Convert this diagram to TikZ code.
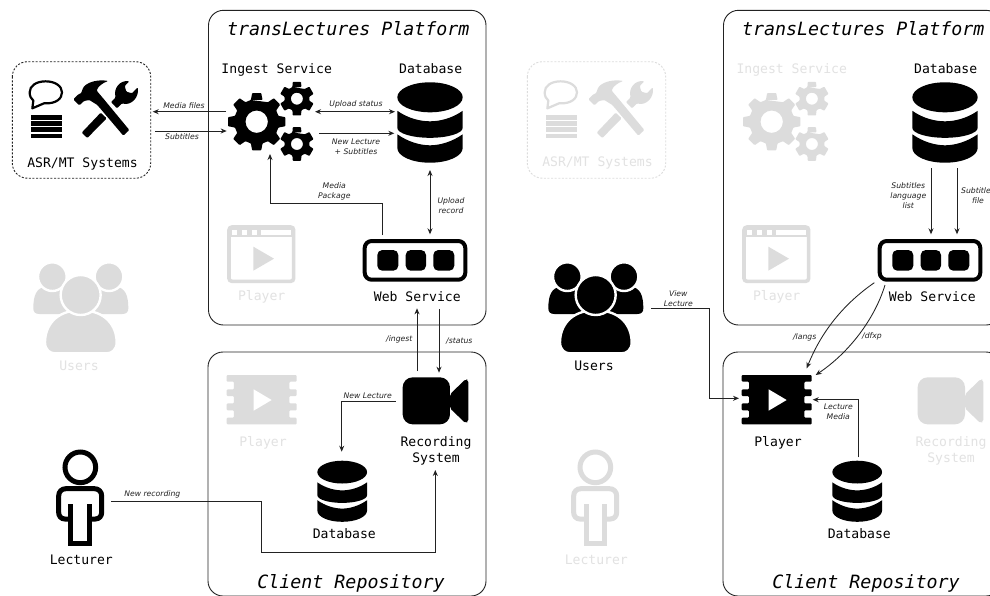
\documentclass[tikz,border=0pt]{standalone}
\usepackage{fontspec}
\setmonofont{DejaVu Sans Mono}
\setsansfont{DejaVu Sans}
\usetikzlibrary{arrows.meta}
\definecolor{ghost}{HTML}{DCDCDC}
\definecolor{ghosttext}{HTML}{E2E2E2}
\definecolor{ink}{HTML}{000000}
\definecolor{wire}{HTML}{222222}
\tikzset{
  zc/.style={x=0.33333pt,y=-0.33333pt},
  boxline/.style={draw=wire,line width=0.9pt,rounded corners=15pt},
  conn/.style={draw=wire,line width=0.85pt,-{Stealth[length=6pt,width=5pt]}},
  conn2/.style={draw=wire,line width=0.85pt,{Stealth[length=6pt,width=5pt]}-{Stealth[length=6pt,width=5pt]}},
  lab/.style={font=\ttfamily\fontsize{13.1}{16.3}\selectfont,inner sep=0pt,align=center,text=ink},
  ghostlab/.style={lab,text=ghosttext},
  titlelab/.style={font=\ttfamily\itshape\fontsize{18.3}{22}\selectfont,inner sep=0pt,text=ink},
  wlab/.style={font=\sffamily\itshape\fontsize{7.7}{10}\selectfont,inner sep=0pt,align=center,text=wire},
}
% #1 dx, #2 colour
\newcommand\toolsicon[2]{\begin{scope}[xshift=#1pt,zc]
  \filldraw[draw=#2,fill=white,line width=2.2pt,line join=round] (100,302) -- (97,325) -- (132,310) .. controls (170,312) and (186,295) .. (186,277) .. controls (186,258) and (165,244) .. (137,244) .. controls (108,244) and (89,258) .. (89,277) .. controls (89,288) and (93,296) .. (100,302) -- cycle;
  \foreach \yy in {345,364,382,401}{\fill[#2] (93,\yy) rectangle (185,\yy+14);}
  \fill[#2,rounded corners=1pt] (220,298) -- (238,316) -- (252,303) -- (268,300) -- (292,315) -- (370,407) -- (388,390) -- (312,298) -- (290,272) .. controls (295,258) and (310,248) .. (325,243) .. controls (295,238) and (265,245) .. (250,262) -- (243,280) -- (235,283) -- cycle;
  \fill[#2,rounded corners=1pt] (245,398) -- (262,414) -- (320,355) -- (302,338) -- cycle;
  \fill[#2,rounded corners=1pt] (333,306) -- (351,325) -- (366,310) .. controls (395,318) and (418,290) .. (413,262) -- (396,280) -- (379,275) -- (374,258) -- (388,244) .. controls (360,240) and (340,265) .. (347,292) -- cycle;
\end{scope}}
% #1 cx #2 cy #3 n #4 outer #5 root #6 hole #7 tip half #8 root half #9 colour
\newcommand\onegear[9]{\fill[#9,even odd rule,shift={(#1,#2)},rounded corners=0.7pt]
  (-90-#8:#5) \foreach \i [evaluate=\i as \a using {-90+\i*360/#3}] in {1,...,#3}{
     -- (\a-#8:#5) -- (\a-#7:#4) -- (\a+#7:#4) -- (\a+#8:#5)
  } -- cycle (0,0) circle (#6);}
\newcommand\gearsicon[2]{\begin{scope}[xshift=#1pt]
  \onegear{256.7}{121.7}{8}{29}{22.5}{11.2}{9}{15}{#2}
  \onegear{296.9}{98.7}{6}{17.3}{12.5}{6}{14}{21}{#2}
  \onegear{296.9}{144}{6}{17.3}{12.5}{6}{14}{21}{#2}
\end{scope}}
% #1 dx #2 dy (top) #3 scale #4 colour
\newcommand\dbicon[4]{\begin{scope}[shift={(#1,#2)},scale=#3]
  \fill[#4] (0,15) ellipse (32.7 and 15);
  \fill[#4] (-32.7,28.5) .. controls (-22,36) and (-10,39) .. (0,39) .. controls (10,39) and (22,36) .. (32.7,28.5) -- (32.7,45.5) .. controls (32.7,51) and (18,55.5) .. (0,55.5) .. controls (-18,55.5) and (-32.7,51) .. (-32.7,45.5) -- cycle;
  \fill[#4] (-32.7,52) .. controls (-22,59.5) and (-10,63) .. (0,63) .. controls (10,63) and (22,59.5) .. (32.7,52) -- (32.7,65.5) .. controls (32.7,74) and (18,80.4) .. (0,80.4) .. controls (-18,80.4) and (-32.7,74) .. (-32.7,65.5) -- cycle;
\end{scope}}
\newcommand\serviceicon[2]{\begin{scope}[xshift=#1pt]
  \draw[#2,line width=4pt,rounded corners=7pt] (364.7,241) rectangle (465.3,279.7);
  \fill[#2,rounded corners=5pt] (377.3,250) rectangle (398.3,270.7);
  \fill[#2,rounded corners=5pt] (405.7,250) rectangle (426,270.7);
  \fill[#2,rounded corners=5pt] (433.3,250) rectangle (454.3,270.7);
\end{scope}}
\newcommand\browsericon[2]{\begin{scope}[xshift=#1pt,zc]
  \draw[#2,line width=3.6pt,rounded corners=3pt] (687,681) rectangle (881,844);
  \fill[#2] (687,681) rectangle (881,710);
  \foreach \xa/\xb in {695/712,725/742,757/772,783/873}{\fill[white] (\xa,690) rectangle (\xb,705);}
  \fill[#2] (760,740) -- (822,776) -- (760,812) -- cycle;
\end{scope}}
\newcommand\usersicon[2]{\begin{scope}[shift={(#1,295)},zc]
  \fill[#2] (100,40) .. controls (100,0) and (110,-20) .. (135,-25) -- (200,-25) -- (200,57) -- (118,57) .. controls (105,57) and (100,50) .. (100,40) -- cycle;
  \fill[#2] (385,40) .. controls (385,0) and (375,-20) .. (350,-25) -- (285,-25) -- (285,57) -- (367,57) .. controls (380,57) and (385,50) .. (385,40) -- cycle;
  \filldraw[fill=#2,draw=white,line width=2.4pt] (157,-55) circle (43 and 43);
  \filldraw[fill=#2,draw=white,line width=2.4pt] (327,-55) circle (43 and 43);
  \filldraw[fill=#2,draw=white,line width=2.4pt] (135,142) .. controls (135,95) and (165,46) .. (242,46) .. controls (319,46) and (350,95) .. (350,142) .. controls (350,165) and (335,175) .. (320,175) -- (165,175) .. controls (150,175) and (135,165) .. (135,142) -- cycle;
  \filldraw[fill=#2,draw=white,line width=2.4pt] (242,0) circle (60 and 60);
\end{scope}}
\newcommand\lecturericon[2]{\begin{scope}[shift={(#1,295)},zc]
  \draw[#2,line width=5pt] (241,517) circle (46 and 46);
  \draw[#2,line width=5pt] (213,672) -- (195,672) .. controls (183,672) and (176,663) .. (176,652) -- (176,603) .. controls (176,590) and (185,581) .. (198,581) -- (283,581) .. controls (296,581) and (305,590) .. (305,603) -- (305,652) .. controls (305,663) and (298,672) .. (286,672) -- (268,672);
  \draw[#2,line width=5pt] (213,628) -- (213,745) -- (268,745) -- (268,628);
\end{scope}}
\newcommand\filmicon[3]{\begin{scope}[shift={(#1,295)},zc]
  \fill[#3,rounded corners=1pt] (#2,240) -- (#2+210,240) -- (#2+210,260) -- (#2+188,260) -- (#2+188,283) -- (#2+210,283) -- (#2+210,303) -- (#2+188,303) -- (#2+188,325) -- (#2+210,325) -- (#2+210,346) -- (#2+188,346) -- (#2+188,368) -- (#2+210,368) -- (#2+210,388) -- (#2,388) -- (#2,368) -- (#2+22,368) -- (#2+22,346) -- (#2,346) -- (#2,325) -- (#2+22,325) -- (#2+22,303) -- (#2,303) -- (#2,283) -- (#2+22,283) -- (#2+22,260) -- (#2,260) -- cycle;
  \fill[white] (#2+81,283) -- (#2+135,315) -- (#2+81,347) -- cycle;
\end{scope}}
\newcommand\cameraicon[2]{\begin{scope}[shift={(#1,295)},zc]
  \fill[#2,rounded corners=10pt] (1208,247) rectangle (1350,388);
  \fill[#2,rounded corners=2pt] (1350,298) -- (1397,252) -- (1405,255) -- (1405,380) -- (1397,385) -- (1350,340) -- cycle;
\end{scope}}
\begin{document}
\begin{tikzpicture}[x=1pt,y=-1pt]
\clip (0,0) rectangle (990,595);
\fill[white] (0,0) rectangle (990,595);

% ---------- left half ----------
\draw[boxline] (208.5,10.3) rectangle (486,325);
\draw[boxline] (208,352) rectangle (486,596);
\draw[draw=wire,line width=0.9pt,dashed,dash pattern=on 2pt off 1.6pt,rounded corners=15pt] (12.3,61.7) rectangle (150.7,178.2);
\toolsicon{0}{ink}
\gearsicon{0}{ink}
\dbicon{430}{82.3}{1}{ink}
\dbicon{342.2}{460.7}{0.76}{ink}
\serviceicon{0}{ink}
\browsericon{0}{ghost}
\usersicon{0}{ghost}
\lecturericon{0}{ink}
\filmicon{0}{680}{ghost}
\cameraicon{0}{ink}

\node[titlelab] (titleA) at (348.3,28.5) {transLectures Platform};
\node[titlelab] (clientA) at (351,583.3) {Client Repository};
\node[lab] (asrA) at (82.5,163.5) {ASR/MT Systems};
\node[lab] (ingestA) at (276.7,70) {Ingest Service};
\node[lab] (dbA) at (430.7,68.5) {Database};
\node[lab] (wsA) at (417.3,296.8) {Web Service};
\node[ghostlab] (playA) at (261.7,297.3) {Player};
\node[ghostlab] (usersA) at (79,365.8) {Users};
\node[ghostlab] (playcA) at (263,443) {Player};
\node[lab] (recA) at (436,451) {Recording\\System};
\node[lab] (cdbA) at (344.3,533.5) {Database};
\node[lab] (lecA) at (81.3,560) {Lecturer};

\coordinate (a1) at (226,111.7);   \coordinate (a2) at (152.7,111.7);
\coordinate (b1) at (155,131);     \coordinate (b2) at (226.7,131);
\coordinate (c1) at (315,111.7);   \coordinate (c2) at (395,111.7);
\coordinate (d1) at (319.3,133.3); \coordinate (d2) at (394.3,133.3);
\coordinate (e1) at (382,235);     \coordinate (e2) at (270,154);
\coordinate (f1) at (430,170);     \coordinate (f2) at (430,234.3);
\coordinate (g1) at (417,371);     \coordinate (g2) at (417,308.3);
\coordinate (h1) at (439,309.3);   \coordinate (h2) at (439,372.7);
\coordinate (i1) at (395.7,401.7); \coordinate (i2) at (341.7,451.7);
\coordinate (j1) at (111,501.7);   \coordinate (j2) at (435.3,470);
\draw[conn] (a1) -- (a2);
\draw[conn] (b1) -- (b2);
\draw[conn2] (c1) -- (c2);
\draw[conn] (d1) -- (d2);
\draw[conn,rounded corners=0pt] (e1) |- (270,203.3) -- (e2);
\draw[conn2] (f1) -- (f2);
\draw[conn] (g1) -- (g2);
\draw[conn] (h1) -- (h2);
\draw[conn] (i1) -| (i2);
\draw[conn] (j1) -- (261.7,501.7) |- (435.3,552) -- (j2);

\node[wlab] (la) at (184,105.7) {Media files};
\node[wlab] (lb) at (182,136.7) {Subtitles};
\node[wlab] (lc) at (356,104.5) {Upload status};
\node[wlab] (ld) at (356,146.7) {New Lecture\\+ Subtitles};
\node[wlab] (le) at (334.3,191.7) {Media\\Package};
\node[wlab] (lf) at (451,206) {Upload\\record};
\node[wlab] (lg) at (399.3,339) {/ingest};
\node[wlab] (lh) at (459.3,340.7) {/status};
\node[wlab] (li) at (367.7,396) {New Lecture};
\node[wlab] (lj) at (152.3,494.7) {New recording};

% ---------- right half ----------
\draw[boxline] (723.5,10.3) rectangle (1001,325);
\draw[boxline] (723,352) rectangle (1001,596);
\draw[draw=ghost,line width=0.9pt,dashed,dash pattern=on 2pt off 1.6pt,rounded corners=15pt] (527.3,61.7) rectangle (665.7,178.2);
\toolsicon{515}{ghost}
\gearsicon{515}{ghost}
\dbicon{945}{82.3}{1}{ink}
\dbicon{857.2}{460.7}{0.76}{ink}
\serviceicon{515}{ink}
\browsericon{515}{ghost}
\usersicon{515}{ink}
\lecturericon{515}{ghost}
\filmicon{515}{680}{ink}
\cameraicon{515}{ghost}

\node[titlelab] (titleB) at (863.3,28.5) {transLectures Platform};
\node[titlelab] (clientB) at (866,583.3) {Client Repository};
\node[ghostlab] (asrB) at (597.5,162.7) {ASR/MT Systems};
\node[ghostlab] (ingestB) at (791.7,70) {Ingest Service};
\node[lab] (dbB) at (945.7,68.5) {Database};
\node[lab] (wsB) at (932.3,296.8) {Web Service};
\node[ghostlab] (playB) at (776.7,297.3) {Player};
\node[lab] (usersB) at (594,365.8) {Users};
\node[lab] (playcB) at (778,443) {Player};
\node[ghostlab] (recB) at (951,451) {Recording\\System};
\node[lab] (cdbB) at (859.3,533.5) {Database};
\node[ghostlab] (lecB) at (596.3,560) {Lecturer};

\coordinate (k1) at (931,168.3);   \coordinate (k2) at (931,234.3);
\coordinate (l1) at (957,168.3);   \coordinate (l2) at (957,234.3);
\coordinate (m1) at (874.3,282.7); \coordinate (m2) at (806.7,368.3);
\coordinate (n1) at (885,285);     \coordinate (n2) at (815.7,375);
\coordinate (o1) at (651,308.7);   \coordinate (o2) at (739,398.3);
\coordinate (p1) at (858,457.3);   \coordinate (p2) at (812.7,399.7);
\draw[conn] (k1) -- (k2);
\draw[conn] (l1) -- (l2);
\draw[conn] (m1) .. controls (845,303) and (822,330) .. (m2);
\draw[conn] (n1) .. controls (875,318) and (850,352) .. (n2);
\draw[conn] (o1) -- (709,308.7) |- (o2);
\draw[conn] (p1) |- (p2);

\node[wlab] (lk) at (908.3,195.7) {Subtitles\\language\\list};
\node[wlab] (ll) at (978,195.2) {Subtitles\\file};
\node[wlab] (lm) at (804.7,337.3) {/langs};
\node[wlab] (ln) at (872,336.7) {/dfxp};
\node[wlab] (lo) at (678.3,298.7) {View\\Lecture};
\node[wlab] (lp) at (838.3,411.7) {Lecture\\Media};
\end{tikzpicture}
\end{document}
